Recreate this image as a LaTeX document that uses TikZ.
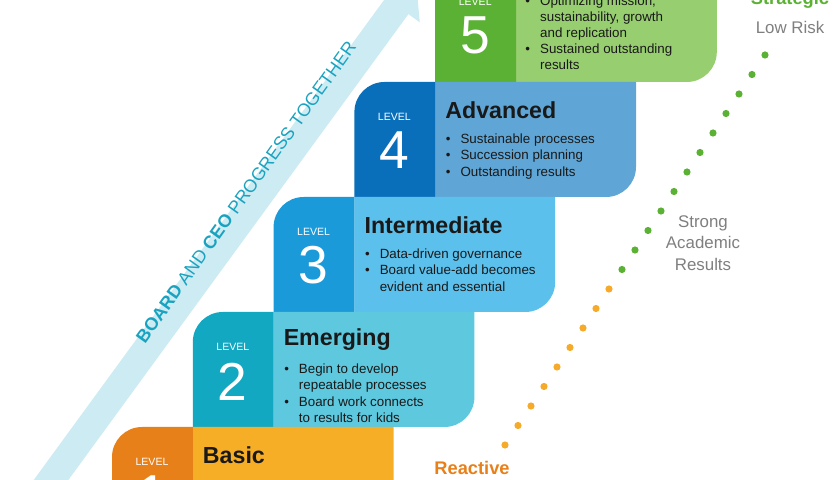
\documentclass[tikz,border=0pt]{standalone}
\usepackage{fontspec}
\setmainfont{Liberation Sans}
\usepackage{xcolor}
\usetikzlibrary{arrows.meta, positioning}

\definecolor{darkA}{HTML}{E8801A}
\definecolor{lightA}{HTML}{F7AE27}
\definecolor{darkB}{HTML}{12A8C2}
\definecolor{lightB}{HTML}{5DC8DE}
\definecolor{darkC}{HTML}{1A9AD9}
\definecolor{lightC}{HTML}{5CC0EC}
\definecolor{darkD}{HTML}{0A6FBA}
\definecolor{lightD}{HTML}{5FA6D6}
\definecolor{darkE}{HTML}{5BB133}
\definecolor{lightE}{HTML}{97CE6F}
\definecolor{bandcol}{HTML}{CDEBF2}
\definecolor{bandtext}{HTML}{1AA3C0}
\definecolor{dotorange}{HTML}{F5AA2A}
\definecolor{dotgreen}{HTML}{5BB133}
\definecolor{greytext}{HTML}{7F7F7F}

\newcommand{\bul}{\makebox[1.1em][l]{\textbullet}}
\newcommand{\ind}{\hspace*{1.1em}}

\begin{document}
\begin{tikzpicture}[
    levelword/.style={text=white, font=\fontsize{7.5}{8}\selectfont},
    levelnum/.style={text=white, font=\fontsize{38}{38}\selectfont},
    title/.style={anchor=west, font=\fontsize{16.5}{18}\selectfont\bfseries, text=black!90},
    bullets/.style={anchor=north west, align=left, inner sep=0pt, font=\fontsize{9.5}{11.4}\selectfont, text=black!90},
    side/.style={font=\fontsize{12}{15.5}\selectfont, text=greytext, align=center}
]
\useasboundingbox (0,0) rectangle (21,12);
\clip (0,0) rectangle (21,12);

% Progress band
\coordinate (bandstart) at (0.4,-1.2);
\coordinate (bandtip) at (10.4,12.5);
\draw[line width=0.7cm, bandcol, -{Triangle[width=1.35cm, length=0.8cm]}] (bandstart) -- (bandtip);
\node[rotate=54.5, text=bandtext, font=\fontsize{12.8}{14}\selectfont] (bandlabel) at (6.15,7.2)
    {\textbf{BOARD} AND \textbf{CEO} PROGRESS TOGETHER};

% Steps
\foreach \k/\dk/\lt in {5/darkE/lightE, 4/darkD/lightD, 3/darkC/lightC, 2/darkB/lightB, 1/darkA/lightA}{
    \pgfmathsetmacro{\xa}{2.8+2.02*(\k-1)}
    \pgfmathsetmacro{\xb}{\xa+2.02}
    \pgfmathsetmacro{\xc}{\xb+5.02}
    \pgfmathsetmacro{\yt}{1.325+2.875*(\k-1)}
    \pgfmathsetmacro{\yb}{\yt-2.875}
    \fill[\lt] (\xb,\yb) -- (\xb,\yt) -- (\xc,\yt) -- (\xc,\yb+0.75)
        arc[start angle=0, end angle=-90, radius=0.75] -- cycle;
    \fill[\dk] (\xa,\yb) -- (\xa,\yt-0.75)
        arc[start angle=180, end angle=90, radius=0.75] -- (\xb,\yt) -- (\xb,\yb) -- cycle;
}

% Level 1
\node[levelword] (word1) at (3.8,0.45) {LEVEL};
\node[levelnum] (num1) at (3.8,-0.35) {1};
\node[title] (basic) at (4.95,0.625) {Basic};

% Level 2
\node[levelword] (word2) at (5.82,3.325) {LEVEL};
\node[levelnum] (num2) at (5.82,2.45) {2};
\node[title] (emerging) at (6.97,3.5) {Emerging};
\node[bullets] (list2) at (7.1,2.9) {\bul Begin to develop\\\ind repeatable processes\\\bul Board work connects\\\ind to results for kids};

% Level 3
\node[levelword] (word3) at (7.84,6.2) {LEVEL};
\node[levelnum] (num3) at (7.84,5.375) {3};
\node[title] (intermediate) at (8.99,6.375) {Intermediate};
\node[bullets] (list3) at (9.12,5.775) {\bul Data-driven governance\\\bul Board value-add becomes\\\ind evident and essential};

% Level 4
\node[levelword] (word4) at (9.86,9.075) {LEVEL};
\node[levelnum] (num4) at (9.86,8.25) {4};
\node[title] (advanced) at (11.01,9.25) {Advanced};
\node[bullets] (list4) at (11.14,8.65) {\bul Sustainable processes\\\bul Succession planning\\\bul Outstanding results};

% Level 5
\node[levelword] (word5) at (11.88,11.95) {LEVEL};
\node[levelnum] (num5) at (11.88,11.125) {5};
\node[bullets] (list5) at (13.13,12.12) {\bul Optimizing mission,\\\ind sustainability, growth\\\ind and replication\\\bul Sustained outstanding\\\ind results};

% Dotted scale
\foreach \i in {0,...,8}
    \fill[dotorange] (12.625+0.325*\i, 0.875+0.4875*\i) circle (0.09);
\foreach \i in {9,...,20}
    \fill[dotgreen] (12.625+0.325*\i, 0.875+0.4875*\i) circle (0.09);

\node[font=\fontsize{13}{15}\selectfont\bfseries, text=darkA] (reactive) at (11.8,0.3) {Reactive};
\node[font=\fontsize{13}{15}\selectfont\bfseries, text=dotgreen] (strategic) at (19.75,12.0) {Strategic};
\node[side] (lowrisk) at (19.75,11.325) {Low Risk};
\node[side] (strong) at (17.575,5.925) {Strong\\Academic\\Results};
\end{tikzpicture}
\end{document}
